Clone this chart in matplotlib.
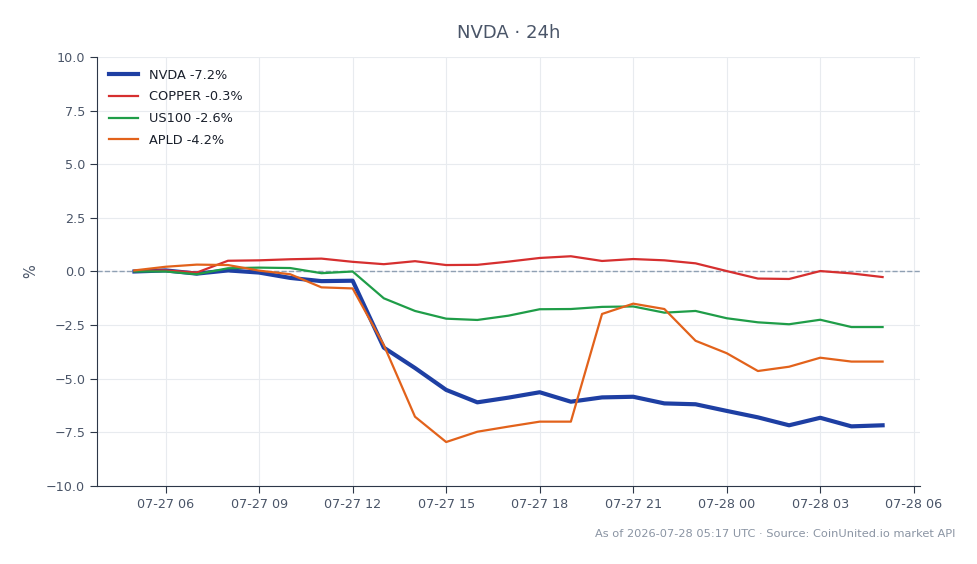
"""NVDA 24h relative performance chart."""

from datetime import datetime, timedelta

import matplotlib.dates as mdates
import matplotlib.pyplot as plt

START = datetime(2026, 7, 27, 5, 0)
HOURS = [START + timedelta(hours=i) for i in range(25)]

NVDA = [0.0, 0.05, -0.1, 0.05, -0.05, -0.3, -0.45, -0.43, -3.55, -4.5, -5.52,
        -6.1, -5.88, -5.63, -6.07, -5.87, -5.84, -6.15, -6.19, -6.5, -6.8,
        -7.17, -6.82, -7.22, -7.17]
COPPER = [0.02, 0.05, -0.05, 0.5, 0.52, 0.57, 0.6, 0.45, 0.34, 0.48, 0.3,
          0.31, 0.46, 0.63, 0.71, 0.49, 0.58, 0.52, 0.38, 0.02, -0.33,
          -0.35, 0.02, -0.09, -0.26]
US100 = [0.0, 0.0, -0.13, 0.15, 0.18, 0.16, -0.08, 0.0, -1.25, -1.84, -2.2,
         -2.26, -2.06, -1.76, -1.75, -1.65, -1.63, -1.92, -1.84, -2.18, -2.37,
         -2.46, -2.25, -2.59, -2.59]
APLD = [0.05, 0.22, 0.32, 0.3, 0.04, -0.13, -0.74, -0.79, -3.43, -6.77, -7.95,
        -7.47, -7.23, -7.0, -7.0, -1.98, -1.5, -1.75, -3.23, -3.81, -4.64,
        -4.44, -4.02, -4.2, -4.2]

SERIES = [
    ("NVDA -7.2%", NVDA, "#1e3fa3", 3.0),
    ("COPPER -0.3%", COPPER, "#d62f2f", 1.6),
    ("US100 -2.6%", US100, "#1f9d48", 1.6),
    ("APLD -4.2%", APLD, "#e2621b", 1.6),
]

TEXT = "#4a5568"

fig = plt.figure(figsize=(9.78, 5.64), dpi=100)
ax = fig.add_axes([0.0992, 0.1383, 0.8415, 0.7607])

for label, values, color, width in SERIES:
    ax.plot(HOURS, values, color=color, linewidth=width, label=label)

ax.axhline(0, color="#8fa0b3", linewidth=1.0, linestyle="--", zorder=1)
ax.set_ylim(-10, 10)
ax.set_yticks([-10, -7.5, -5, -2.5, 0, 2.5, 5, 7.5, 10])
ax.xaxis.set_major_locator(mdates.HourLocator(byhour=range(0, 24, 3)))
ax.xaxis.set_major_formatter(mdates.DateFormatter("%m-%d %H"))

ax.grid(True, color="#e8ebef", linewidth=0.8)
ax.set_axisbelow(True)
for side in ("top", "right"):
    ax.spines[side].set_visible(False)
for side in ("left", "bottom"):
    ax.spines[side].set_color("#2d3748")
ax.tick_params(colors="#2d3748", labelcolor=TEXT, labelsize=9.2, length=5)

ax.set_ylabel("%", color=TEXT, fontsize=10.5, labelpad=6)
ax.set_title("NVDA · 24h", color=TEXT, fontsize=13, pad=14)
ax.legend(loc="upper left", frameon=False, fontsize=9.3, labelcolor="#1a202c",
          handlelength=2.3, borderaxespad=0.5, labelspacing=0.68)

fig.text(0.977, 0.053, "As of 2026-07-28 05:17 UTC · Source: CoinUnited.io market API",
         ha="right", va="center", fontsize=8.2, color="#8a94a3")

fig.savefig("out.png", dpi=100, facecolor="white")
